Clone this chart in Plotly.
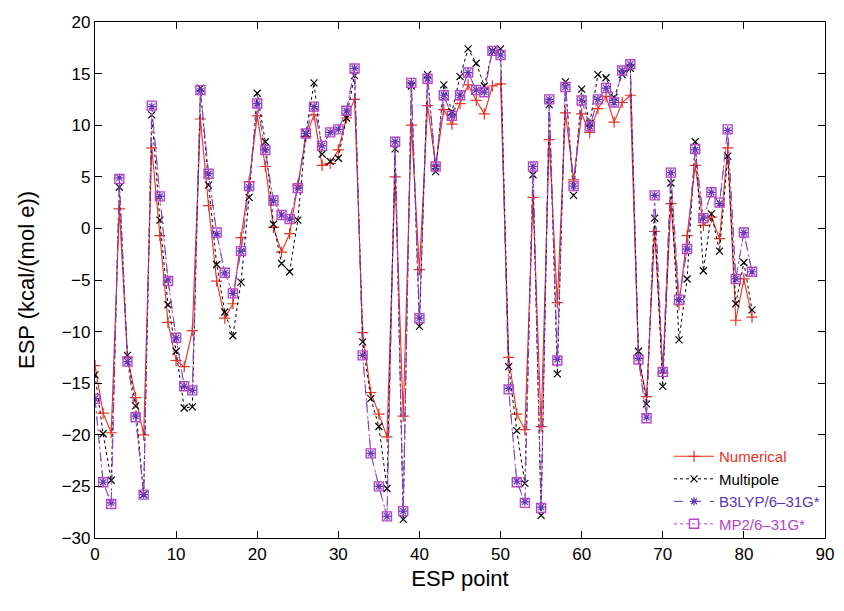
import plotly.graph_objects as go

points = list(range(82))

numerical = [-13.3, -17.9, -19.8, 1.9, -12.5, -16.4, -20.0, 7.8, -0.7, -9.1,
             -12.8, -13.4, -9.9, 10.6, 2.2, -5.1, -8.7, -7.3, -0.9, 4.5,
             10.9, 6.0, 0.1, -2.3, -0.5, 4.2, 8.9, 11.0, 6.1, 6.3,
             7.6, 10.7, 12.5, -10.1, -15.9, -18.0, -20.2, 5.0, -18.2, 10.0,
             -4.0, 11.9, 6.1, 11.5, 10.1, 12.1, 13.9, 12.4, 11.1, 13.8,
             14.0, -12.5, -18.0, -19.5, 3.0, -19.2, 8.6, -7.2, 11.2, 4.7,
             11.1, 9.3, 11.6, 12.8, 10.3, 12.2, 12.9, -12.6, -16.3, -0.3,
             -14.0, 2.4, -7.4, -0.7, 6.1, 0.3, 1.1, -1.0, 7.8, -8.9,
             -4.9, -8.6]

multipole = [-14.2, -19.9, -24.4, 4.0, -12.3, -17.2, -25.8, 11.0, 0.8, -7.4,
             -11.9, -17.4, -17.3, 13.6, 4.2, -3.5, -8.1, -10.4, -5.2, 3.0,
             13.1, 8.4, 0.4, -3.4, -4.2, 0.8, 9.2, 14.1, 7.2, 6.5,
             6.8, 10.7, 14.8, -11.0, -16.5, -19.2, -25.2, 7.7, -28.2, 13.8,
             -9.5, 14.9, 5.5, 13.9, 11.3, 14.7, 17.4, 16.0, 13.8, 17.2,
             17.4, -13.4, -19.6, -24.7, 5.2, -27.8, 12.0, -14.1, 14.2, 3.2,
             13.5, 10.2, 14.9, 14.6, 12.7, 14.9, 15.5, -11.9, -17.0, 1.0,
             -15.3, 4.4, -10.8, -4.9, 8.4, -4.1, 1.4, -2.2, 7.0, -7.3,
             -3.3, -7.9]

b3lyp = [-16.5, -24.6, -26.6, 4.9, -12.9, -18.2, -25.8, 11.8, 3.1, -5.0,
         -10.6, -15.3, -15.7, 13.3, 5.3, -0.5, -4.3, -6.3, -2.2, 4.0,
         12.1, 7.6, 2.7, 1.3, 0.9, 3.9, 9.2, 11.8, 8.0, 9.3,
         9.6, 11.4, 15.5, -12.3, -21.8, -25.0, -27.9, 8.4, -27.4, 14.1,
         -8.7, 14.5, 6.0, 12.9, 10.9, 12.9, 15.1, 13.4, 13.2, 17.2,
         16.8, -15.5, -24.5, -26.5, 6.0, -27.0, 12.5, -12.7, 13.7, 4.1,
         12.4, 9.9, 12.5, 13.6, 12.2, 15.3, 15.9, -12.6, -18.3, 3.2,
         -13.8, 5.4, -6.9, -2.0, 7.6, 1.0, 3.5, 2.4, 9.5, -4.9,
         -0.4, -4.2]

mp2 = [-16.5, -24.6, -26.7, 4.8, -12.9, -18.3, -25.8, 11.9, 3.1, -5.1,
       -10.6, -15.3, -15.7, 13.4, 5.3, -0.4, -4.3, -6.3, -2.2, 4.1,
       12.1, 7.6, 2.7, 1.3, 0.9, 3.9, 9.2, 11.8, 8.0, 9.3,
       9.6, 11.4, 15.5, -12.3, -21.8, -25.0, -27.9, 8.4, -27.4, 14.1,
       -8.7, 14.5, 6.0, 12.9, 10.9, 12.9, 15.1, 13.4, 13.2, 17.2,
       16.8, -15.6, -24.6, -26.6, 6.0, -27.1, 12.5, -12.8, 13.7, 4.1,
       12.4, 9.9, 12.5, 13.6, 12.2, 15.3, 15.9, -12.7, -18.4, 3.2,
       -13.9, 5.4, -6.9, -2.0, 7.7, 1.0, 3.5, 2.5, 9.6, -4.9,
       -0.4, -4.2]

C_NUM = "#e8321e"
C_MUL = "#000000"
C_B3 = "#5a35b8"
C_MP2 = "#b444c8"

fig = go.Figure()
fig.add_trace(go.Scatter(
    x=points, y=numerical, mode="lines+markers",
    name='<span style="color:%s">Numerical</span>' % C_NUM,
    line=dict(color=C_NUM, width=1.1),
    marker=dict(symbol="cross-thin", size=8, line=dict(color=C_NUM, width=1.2))))
fig.add_trace(go.Scatter(
    x=points, y=multipole, mode="lines+markers",
    name='<span style="color:%s">Multipole</span>' % C_MUL,
    line=dict(color=C_MUL, width=1, dash="dot"),
    marker=dict(symbol="x-thin", size=7, line=dict(color=C_MUL, width=1.2))))
fig.add_trace(go.Scatter(
    x=points, y=b3lyp, mode="lines+markers",
    name='<span style="color:%s">B3LYP/6\u201331G*</span>' % C_B3,
    line=dict(color=C_B3, width=1, dash="dash"),
    marker=dict(symbol="asterisk", size=7, line=dict(color=C_B3, width=1.2))))
fig.add_trace(go.Scatter(
    x=points, y=mp2, mode="lines+markers",
    name='<span style="color:%s">MP2/6\u201331G*</span>' % C_MP2,
    line=dict(color=C_MP2, width=1, dash="dot"),
    marker=dict(symbol="square-open", size=9, line=dict(color=C_MP2, width=1.4))))

axis_common = dict(
    showline=True, linecolor="black", linewidth=1.2, mirror="ticks",
    ticks="inside", ticklen=7, tickcolor="black", tickwidth=1.2,
    showgrid=False, zeroline=False, automargin=False,
    tickfont=dict(family="Liberation Sans, Arial, sans-serif", size=17, color="black"),
)

# page has an 8px body margin: figure is shrunk so the plot area lands where it should
fig.update_layout(
    width=836, height=603,
    paper_bgcolor="white", plot_bgcolor="white",
    margin=dict(l=87, r=19, t=14, b=73),
    font=dict(family="Liberation Sans, Arial, sans-serif", color="black"),
    xaxis=dict(range=[0, 90], dtick=10, tick0=0,
               title=dict(text="ESP point", font=dict(size=22), standoff=8),
               **axis_common),
    yaxis=dict(range=[-30, 20], dtick=5, tick0=0,
               title=dict(text="ESP (kcal/(mol e))", font=dict(size=22), standoff=20),
               **axis_common),
    legend=dict(x=1.0, y=-0.004, xanchor="right", yanchor="bottom",
                bgcolor="rgba(0,0,0,0)", font=dict(size=15),
                tracegroupgap=0, itemwidth=40),
    showlegend=True,
)

fig.write_html("out.html")
